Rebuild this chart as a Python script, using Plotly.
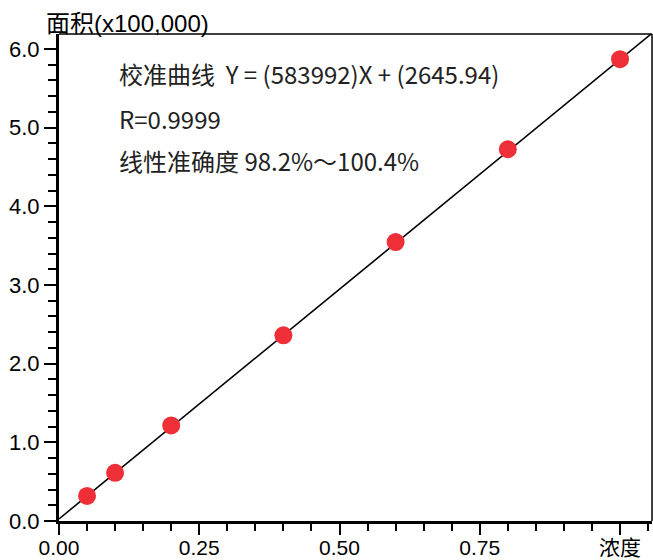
import plotly.graph_objects as go

# data (area in units of 100,000)
conc = [0.05, 0.1, 0.2, 0.4, 0.6, 0.8, 1.0]
area = [0.318, 0.612, 1.215, 2.36, 3.545, 4.725, 5.87]
slope = 5.83992
intercept = 0.0264594
fit_x = [0.0, 1.06]
fit_y = [intercept + slope * v for v in fit_x]

x_tickvals = [0.0, 0.25, 0.5, 0.75, 1.0]
x_ticktext = ["0.00", "0.25", "0.50", "0.75", "浓度"]
y_tickvals = [0, 1, 2, 3, 4, 5, 6]
y_ticktext = ["0.0", "1.0", "2.0", "3.0", "4.0", "5.0", "6.0"]

ann_lines = ["校准曲线  Y = (583992)X + (2645.94)", "R=0.9999", "线性准确度 98.2%～100.4%"]

FONT = "Liberation Sans, Arial, Noto Sans CJK SC"
CJK = "Noto Sans CJK SC, Noto Sans"

fig = go.Figure()
fig.add_trace(go.Scatter(x=fit_x, y=fit_y, mode="lines",
                         line=dict(color="black", width=1.6), hoverinfo="skip", cliponaxis=True))
fig.add_trace(go.Scatter(x=conc, y=area, mode="markers",
                         marker=dict(color="#EE2F37", size=18, line=dict(width=0))))

fig.update_layout(
    width=653, height=560,
    margin=dict(l=59, r=1, t=34, b=39),
    paper_bgcolor="white", plot_bgcolor="white",
    showlegend=False,
    font=dict(family=FONT, size=22, color="black"),
    xaxis=dict(range=[0, 1.057], tickvals=x_tickvals, ticktext=x_ticktext, automargin=False,
               showgrid=False, zeroline=False, showline=True, linecolor="black", linewidth=3,
               ticks="outside", ticklen=11, tickwidth=2, tickcolor="black", ticklabelstandoff=-5,
               minor=dict(dtick=0.05, tick0=0, ticks="outside", ticklen=7, tickwidth=2, tickcolor="black"),
               tickfont=dict(family=FONT, size=21)),
    yaxis=dict(range=[0, 6.19], tickvals=y_tickvals, ticktext=y_ticktext, automargin=False,
               showgrid=False, zeroline=False, showline=True, linecolor="black", linewidth=3,
               ticks="outside", ticklen=12, tickwidth=2, tickcolor="black",
               minor=dict(dtick=0.2, tick0=0, ticks="outside", ticklen=8, tickwidth=2, tickcolor="black"),
               tickfont=dict(family=FONT, size=22)),
)

# thin top/right border
fig.add_shape(type="line", xref="paper", yref="paper", x0=0, x1=1, y0=1, y1=1,
              line=dict(color="black", width=1.5))
fig.add_shape(type="line", xref="paper", yref="paper", x0=1, x1=1, y0=0, y1=1,
              line=dict(color="black", width=1.5))

fig.add_annotation(text="面积(x100,000)", xref="paper", yref="paper", x=0, y=1,
                   xanchor="left", yanchor="bottom", xshift=-15, yshift=-5, showarrow=False,
                   font=dict(family=FONT, size=24, color="black"))

ys = [73, 118, 161]
for t, yp in zip(ann_lines, ys):
    fig.add_annotation(text=t, xref="paper", yref="paper", x=(117 - 59) / 593,
                       y=1 - (yp - 34) / 487, xanchor="left", yanchor="middle",
                       showarrow=False, font=dict(family=CJK, size=24, color="#222222"))

fig.write_html("out.html", config={"displayModeBar": False},
               post_script="document.body.style.margin='0';document.body.style.overflow='hidden';")
